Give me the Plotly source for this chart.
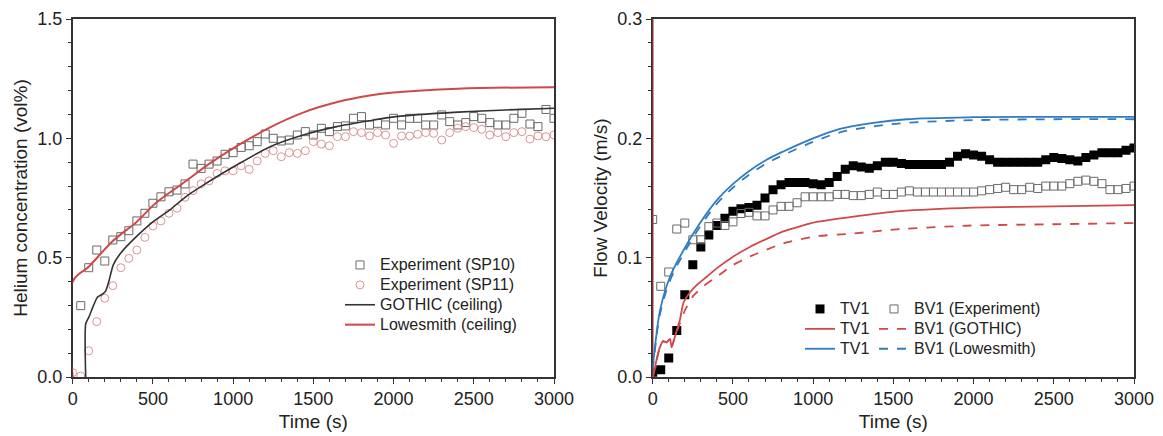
import plotly.graph_objects as go

# ---------------- data: left panel (helium concentration, vol%) ----------------
t_sp10 = [50, 100, 150, 200, 250, 300, 350, 400, 450, 500, 550, 600, 650, 700, 750, 800, 850, 900, 950,
          1000, 1050, 1100, 1150, 1200, 1250, 1300, 1350, 1400, 1450, 1500, 1550, 1600, 1650, 1700, 1750,
          1800, 1850, 1900, 1950, 2000, 2050, 2100, 2150, 2200, 2250, 2300, 2350, 2400, 2450, 2500, 2550,
          2600, 2650, 2700, 2750, 2800, 2850, 2900, 2950, 3000]
sp10 = [0.299, 0.458, 0.532, 0.486, 0.574, 0.588, 0.613, 0.654, 0.686, 0.728, 0.755, 0.776, 0.783, 0.809,
        0.892, 0.874, 0.892, 0.905, 0.933, 0.940, 0.962, 0.969, 0.986, 1.018, 1.000, 0.989, 0.993, 1.014,
        1.028, 1.014, 1.042, 1.028, 1.049, 1.052, 1.084, 1.091, 1.056, 1.063, 1.056, 1.084, 1.056, 1.084,
        1.084, 1.056, 1.056, 1.098, 1.070, 1.056, 1.066, 1.091, 1.084, 1.066, 1.056, 1.056, 1.084, 1.105,
        1.060, 1.049, 1.121, 1.084]

t_exp = [0, 50, 100, 150, 200, 250, 300, 350, 400, 450, 500, 550, 600, 650, 700, 750, 800, 850, 900, 950,
         1000, 1050, 1100, 1150, 1200, 1250, 1300, 1350, 1400, 1450, 1500, 1550, 1600, 1650, 1700, 1750,
         1800, 1850, 1900, 1950, 2000, 2050, 2100, 2150, 2200, 2250, 2300, 2350, 2400, 2450, 2500, 2550,
         2600, 2650, 2700, 2750, 2800, 2850, 2900, 2950, 3000]
sp11 = [0.018, 0.004, 0.110, 0.232, 0.330, 0.383, 0.458, 0.497, 0.532, 0.585, 0.633, 0.654, 0.686, 0.707,
        0.753, 0.781, 0.809, 0.822, 0.853, 0.864, 0.864, 0.885, 0.870, 0.905, 0.937, 0.948, 0.923, 0.940,
        0.937, 0.948, 0.986, 0.976, 0.969, 1.007, 1.007, 1.028, 1.024, 1.010, 1.024, 1.014, 0.979, 1.010,
        1.010, 1.017, 1.024, 1.021, 0.993, 1.024, 1.042, 1.049, 1.045, 1.038, 1.014, 1.024, 1.007, 1.024,
        1.028, 0.997, 1.010, 1.007, 1.014]

t_goth = [81, 81, 100, 130, 155, 185, 205, 225, 253, 300, 400, 500, 606, 700, 814, 1022, 1230, 1437,
          1645, 1853, 2000, 2400, 2700, 3000]
goth = [0.0, 0.222, 0.250, 0.300, 0.335, 0.347, 0.360, 0.400, 0.470, 0.520, 0.590, 0.650, 0.700, 0.753,
        0.804, 0.888, 0.965, 1.014, 1.049, 1.074, 1.090, 1.110, 1.119, 1.126]

t_lowe = [0, 0, 100, 250, 400, 520, 700, 850, 1000, 1230, 1440, 1650, 1850, 2000, 2400, 3000]
lowe = [0.0, 0.400, 0.462, 0.570, 0.651, 0.730, 0.818, 0.893, 0.958, 1.046, 1.109, 1.152, 1.179, 1.192,
        1.208, 1.214]

# ---------------- data: right panel (flow velocity, m/s) ----------------
tv1_exp = [0.004, 0.006, 0.016, 0.039, 0.069, 0.094, 0.109, 0.119, 0.127, 0.133, 0.139, 0.141, 0.142, 0.144,
           0.150, 0.157, 0.161, 0.163, 0.163, 0.163, 0.162, 0.161, 0.163, 0.168, 0.174, 0.177, 0.176, 0.175,
           0.177, 0.180, 0.180, 0.179, 0.178, 0.178, 0.178, 0.178, 0.178, 0.180, 0.185, 0.187, 0.186, 0.185,
           0.182, 0.180, 0.180, 0.180, 0.180, 0.180, 0.180, 0.182, 0.184, 0.183, 0.182, 0.181, 0.184, 0.186,
           0.188, 0.188, 0.188, 0.190, 0.192]
bv1_exp = [0.132, 0.076, 0.088, 0.124, 0.129, 0.115, 0.115, 0.126, 0.129, 0.127, 0.130, 0.137, 0.138, 0.135,
           0.135, 0.140, 0.143, 0.143, 0.146, 0.151, 0.151, 0.151, 0.151, 0.153, 0.153, 0.152, 0.152, 0.153,
           0.155, 0.153, 0.153, 0.155, 0.156, 0.155, 0.155, 0.155, 0.155, 0.155, 0.155, 0.155, 0.155, 0.156,
           0.157, 0.158, 0.159, 0.157, 0.157, 0.159, 0.158, 0.160, 0.160, 0.160, 0.162, 0.164, 0.165, 0.164,
           0.162, 0.157, 0.157, 0.158, 0.160]

t_tv1_g = [0, 0, 2, 20, 45, 66, 87, 108, 118, 139, 170, 191, 233, 274, 337, 399, 503, 606, 814, 1022, 1230,
           1541, 2000, 2500, 3000]
tv1_g = [0.0, 0.35, 0.0, 0.012, 0.025, 0.030, 0.029, 0.032, 0.025, 0.034, 0.048, 0.062, 0.071, 0.077, 0.084,
         0.091, 0.101, 0.109, 0.122, 0.130, 0.134, 0.139, 0.142, 0.143, 0.144]
t_bv1_g = [0, 20, 45, 66, 87, 108, 118, 139, 170, 201, 253, 316, 399, 503, 606, 814, 1022, 1230, 1541, 2000,
           2500, 3000]
bv1_g = [0.0, 0.012, 0.025, 0.030, 0.029, 0.032, 0.025, 0.034, 0.045, 0.056, 0.068, 0.076, 0.084, 0.094,
         0.101, 0.112, 0.118, 0.120, 0.124, 0.127, 0.128, 0.129]

t_low_r = [0, 10, 46, 108, 191, 295, 399, 503, 606, 710, 814, 1000, 1167, 1375, 1583, 2000, 2500, 3000]
tv1_l = [0.008, 0.020, 0.056, 0.084, 0.106, 0.129, 0.148, 0.162, 0.173, 0.182, 0.189, 0.200, 0.208, 0.213,
         0.216, 0.2177, 0.218, 0.218]
bv1_l = [0.006, 0.018, 0.053, 0.081, 0.103, 0.126, 0.145, 0.159, 0.170, 0.179, 0.186, 0.197, 0.205, 0.210,
         0.213, 0.2152, 0.216, 0.216]

# ---------------- styling ----------------
RED = "#d04848"
BLUE = "#2f7cc2"
DARK = "#333333"
PINK = "#d99595"
GREY = "#6a6a6a"
FONT = "Arial, Liberation Sans, sans-serif"
W, H = 1163, 436
OFF = 8  # page body margin offset of the figure


def px_x(p):
    return (p - OFF) / W


def px_y(p):
    return 1 - (p - OFF) / H


def lg(txt):
    return '<span style="font-size:16px">' + txt + '</span>'


fig = go.Figure()

# left panel
fig.add_trace(go.Scatter(x=t_sp10, y=sp10, mode="markers", name=lg("Experiment (SP10)"),
                         marker=dict(symbol="square-open", size=8, color=GREY, line=dict(width=1)),
                         xaxis="x", yaxis="y", legend="legend"))
fig.add_trace(go.Scatter(x=t_exp, y=sp11, mode="markers", name=lg("Experiment (SP11)"),
                         marker=dict(symbol="circle-open", size=8, color=PINK, line=dict(width=1)),
                         xaxis="x", yaxis="y", legend="legend"))
fig.add_trace(go.Scatter(x=t_goth, y=goth, mode="lines", name=lg("GOTHIC (ceiling)"),
                         line=dict(color=DARK, width=1.6, shape="spline", smoothing=0.6),
                         xaxis="x", yaxis="y", legend="legend"))
fig.add_trace(go.Scatter(x=t_lowe, y=lowe, mode="lines", name=lg("Lowesmith (ceiling)"),
                         line=dict(color=RED, width=2, shape="spline", smoothing=1.0),
                         xaxis="x", yaxis="y", legend="legend"))

# right panel
fig.add_trace(go.Scatter(x=t_exp, y=tv1_exp, mode="markers", name=lg("TV1"),
                         marker=dict(symbol="square", size=9, color="black"),
                         xaxis="x2", yaxis="y2", legend="legend2"))
fig.add_trace(go.Scatter(x=t_exp, y=bv1_exp, mode="markers", name=lg("BV1 (Experiment)"),
                         marker=dict(symbol="square-open", size=8, color=GREY, line=dict(width=1)),
                         xaxis="x2", yaxis="y2", legend="legend3"))
fig.add_trace(go.Scatter(x=t_tv1_g, y=tv1_g, mode="lines", name=lg("TV1"),
                         line=dict(color=RED, width=1.8, shape="spline", smoothing=0.5),
                         xaxis="x2", yaxis="y2", legend="legend2"))
fig.add_trace(go.Scatter(x=t_bv1_g, y=bv1_g, mode="lines", name=lg("BV1 (GOTHIC)"),
                         line=dict(color=RED, width=1.8, dash="dash", shape="spline", smoothing=0.5),
                         xaxis="x2", yaxis="y2", legend="legend3"))
fig.add_trace(go.Scatter(x=t_low_r, y=tv1_l, mode="lines", name=lg("TV1"),
                         line=dict(color=BLUE, width=1.8, shape="spline"),
                         xaxis="x2", yaxis="y2", legend="legend2"))
fig.add_trace(go.Scatter(x=t_low_r, y=bv1_l, mode="lines", name=lg("BV1 (Lowesmith)"),
                         line=dict(color=BLUE, width=1.8, dash="dash", shape="spline"),
                         xaxis="x2", yaxis="y2", legend="legend3"))

axis_common = dict(showline=True, linecolor=DARK, linewidth=1.5, mirror=True, ticks="outside",
                   ticklen=5, tickwidth=1.2, tickcolor=DARK, showgrid=False, zeroline=False,
                   tickfont=dict(size=18, color="#222", family=FONT), automargin=False,
                   layer="below traces")

y_dom = [px_y(377), px_y(19)]

x1 = dict(axis_common, domain=[px_x(72.7), px_x(554)], range=[0, 3000], dtick=500, anchor="y",
          minor=dict(ticks="outside", dtick=100, ticklen=3, tickcolor=DARK),
          title=dict(text="Time (s)", font=dict(size=19, color="#222", family=FONT), standoff=6))
y1 = dict(axis_common, domain=y_dom, range=[0, 1.5], dtick=0.5, tickformat=".1f", anchor="x",
          minor=dict(ticks="outside", dtick=0.1, ticklen=3, tickcolor=DARK),
          title=dict(text="Helium concentration (vol%)", font=dict(size=19, color="#222", family=FONT),
                     standoff=5))
x2 = dict(axis_common, domain=[px_x(652.7), px_x(1134)], range=[0, 3000], dtick=500, anchor="y2",
          minor=dict(ticks="outside", dtick=100, ticklen=3, tickcolor=DARK),
          title=dict(text="Time (s)", font=dict(size=19, color="#222", family=FONT), standoff=6))
y2 = dict(axis_common, domain=y_dom, range=[0, 0.3], dtick=0.1, tickformat=".1f", anchor="x2",
          minor=dict(ticks="outside", dtick=0.02, ticklen=3, tickcolor=DARK),
          title=dict(text="Flow Velocity (m/s)", font=dict(size=19, color="#222", family=FONT),
                     standoff=5))

leg_common = dict(xanchor="left", yanchor="top", bgcolor="rgba(0,0,0,0)", borderwidth=0,
                  font=dict(size=13, color="#222", family=FONT), tracegroupgap=0, itemwidth=30)

fig.update_layout(
    width=W, height=H,
    margin=dict(l=0, r=0, t=0, b=0),
    paper_bgcolor="white", plot_bgcolor="white",
    font=dict(family=FONT, color="#222"),
    xaxis=x1, yaxis=y1, xaxis2=x2, yaxis2=y2,
    legend=dict(leg_common, x=px_x(340), y=px_y(250)),
    legend2=dict(leg_common, x=px_x(800), y=px_y(294)),
    legend3=dict(leg_common, x=px_x(874), y=px_y(294)),
)

fig.write_html("out.html")
